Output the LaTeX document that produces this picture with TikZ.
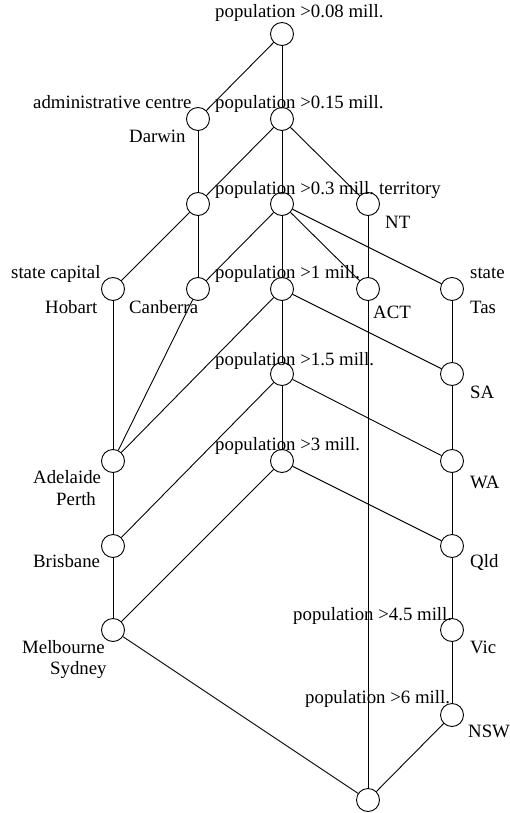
\documentclass[tikz,border=0pt]{standalone}
\usepackage{fontspec}
\setmainfont{Liberation Serif}
\begin{document}
\begin{tikzpicture}[x=1pt,y=-1pt,
  cn/.style={circle,draw=black,fill=white,line width=0.9pt,minimum size=23pt,inner sep=0pt},
  ed/.style={line width=0.9pt,black},
  lbl/.style={anchor=base west,inner sep=0pt,font=\fontsize{18.8}{22}\selectfont}]
\useasboundingbox (0,0) rectangle (510,813);
\path
 (282,34) coordinate (c0)
 (198,119) coordinate (c1) (282,119) coordinate (c2)
 (198,204) coordinate (c3) (282,204) coordinate (c4) (368,204) coordinate (c5)
 (113,289) coordinate (c6) (198,289) coordinate (c7) (282,289) coordinate (c8) (368,289) coordinate (c9) (452,289) coordinate (c10)
 (282,374) coordinate (c11) (452,374) coordinate (c12)
 (113,461) coordinate (c13) (282,461) coordinate (c14) (452,461) coordinate (c15)
 (113,546) coordinate (c16) (452,546) coordinate (c17)
 (113,630) coordinate (c18) (452,630) coordinate (c19)
 (452,715) coordinate (c20)
 (368,800) coordinate (c21);
\foreach \i in {0,...,21} {\node[cn] (n\i) at (c\i) {};}
\draw[ed] (n0) -- (n1);
\draw[ed] (n0) -- (n2);
\draw[ed] (n1) -- (n3);
\draw[ed] (n2) -- (n3);
\draw[ed] (n2) -- (n4);
\draw[ed] (n2) -- (n5);
\draw[ed] (n3) -- (n6);
\draw[ed] (n3) -- (n7);
\draw[ed] (n4) -- (n7);
\draw[ed] (n4) -- (n8);
\draw[ed] (n4) -- (n9);
\draw[ed] (n4) -- (n10);
\draw[ed] (n5) -- (n9);
\draw[ed] (n6) -- (n13);
\draw[ed] (n7) -- (n13);
\draw[ed] (n8) -- (n13);
\draw[ed] (n8) -- (n11);
\draw[ed] (n8) -- (n12);
\draw[ed] (n10) -- (n12);
\draw[ed] (n11) -- (n16);
\draw[ed] (n11) -- (n14);
\draw[ed] (n11) -- (n15);
\draw[ed] (n12) -- (n15);
\draw[ed] (n13) -- (n16);
\draw[ed] (n14) -- (n18);
\draw[ed] (n14) -- (n17);
\draw[ed] (n15) -- (n17);
\draw[ed] (n16) -- (n18);
\draw[ed] (n17) -- (n19);
\draw[ed] (n19) -- (n20);
\draw[ed] (n18) -- (n21);
\draw[ed] (n9) -- (n21);
\draw[ed] (n20) -- (n21);
% labels
\node[lbl] (l0) at (215,18) {population >0.08 mill.};
\node[lbl] (l1) at (33,109) {administrative centre};
\node[lbl] (l2) at (215,109) {population >0.15 mill.};
\node[lbl] (l3) at (129,143) {Darwin};
\node[lbl] (l4) at (215,194) {population >0.3 mill.};
\node[lbl] (l5) at (379,194) {territory};
\node[lbl] (l6) at (385,228) {NT};
\node[lbl] (l7) at (11,278) {state capital};
\node[lbl] (l8) at (215,278) {population >1 mill.};
\node[lbl] (l9) at (470,278) {state};
\node[lbl] (l10) at (45,313) {Hobart};
\node[lbl] (l11) at (129,313) {Canberra};
\node[lbl] (l12) at (373,318) {ACT};
\node[lbl] (l13) at (470,313) {Tas};
\node[lbl] (l14) at (215,365) {population >1.5 mill.};
\node[lbl] (l15) at (470,398) {SA};
\node[lbl] (l16) at (215,450) {population >3 mill.};
\node[lbl] (l17) at (33,483) {Adelaide};
\node[lbl] (l18) at (56,505) {Perth};
\node[lbl] (l19) at (470,488) {WA};
\node[lbl] (l20) at (33,567) {Brisbane};
\node[lbl] (l21) at (470,567) {Qld};
\node[lbl] (l22) at (293,620) {population >4.5 mill.};
\node[lbl] (l23) at (22,653) {Melbourne};
\node[lbl] (l24) at (50,674) {Sydney};
\node[lbl] (l25) at (470,653) {Vic};
\node[lbl] (l26) at (305,703) {population >6 mill.};
\node[lbl] (l27) at (468,737) {NSW};
\end{tikzpicture}
\end{document}
